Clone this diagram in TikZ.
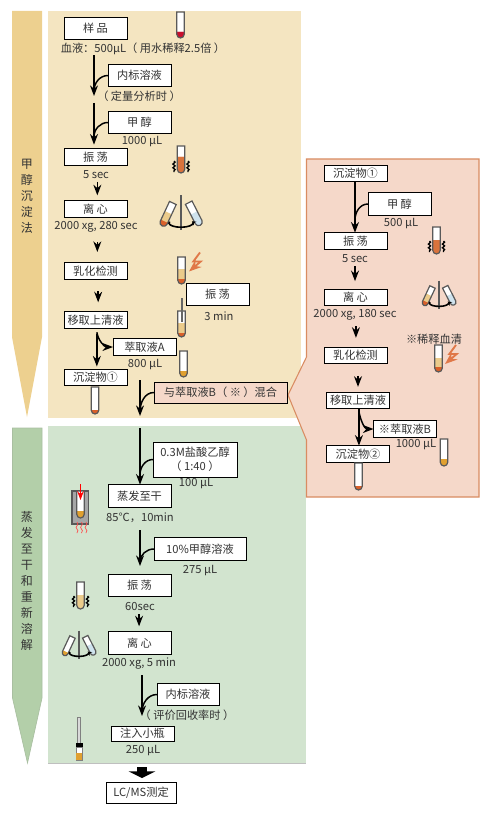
\documentclass[tikz,border=0pt]{standalone}
\usepackage{fontspec}
\setmainfont{Noto Sans CJK SC}
\usetikzlibrary{arrows.meta, positioning, decorations.pathmorphing}

\definecolor{panelyellow}{HTML}{F4E5C1}
\definecolor{bandyellow}{HTML}{EDD08F}
\definecolor{panelgreen}{HTML}{D2E4CF}
\definecolor{bandgreen}{HTML}{B3CFA9}
\definecolor{panelpink}{HTML}{F5D8C9}
\definecolor{edgepink}{HTML}{D98C62}
\definecolor{sparkorange}{HTML}{E07848}
\definecolor{pelletorange}{HTML}{D9602A}
\definecolor{mixorange}{HTML}{D9733C}
\definecolor{layertan}{HTML}{EBCB8B}
\definecolor{amber}{HTML}{E0A030}
\definecolor{paleblue}{HTML}{CFE3EE}
\definecolor{bloodred}{HTML}{C8102E}
\definecolor{inkgray}{HTML}{333333}

\newcommand{\tubepath}[3]{({#1-3.7},#2) -- ({#1-3.7},{#3-3.7}) arc[start angle=180,end angle=0,radius=3.7] -- ({#1+3.7},#2) -- cycle}
\newcommand{\testtube}[7]{%
  \fill[white] \tubepath{#1}{#2}{#3};
  \fill[#5] \tubepath{#1}{#4}{#3};
  \fill[#7] \tubepath{#1}{#6}{#3};
  \draw[tubeline] \tubepath{#1}{#2}{#3};
}
\newcommand{\shakemarks}[2]{%
  \draw[shakeline] ({#1-7},#2) -- ++(0,11);
  \draw[shakeline] ({#1+7},#2) -- ++(0,11);
}
\newcommand{\spinner}[6]{%
  \begin{scope}[shift={(#1,#2)},scale=#3]
    \draw[axisline] (0,-28) -- (0,7);
    \begin{scope}[shift={(-13.5,-8.5)},rotate=-25]
      \testtube{0}{-12.7}{12.7}{-2}{#4}{7.5}{#5}
    \end{scope}
    \begin{scope}[shift={(13.5,-9)},rotate=27]
      \testtube{0}{-12.7}{12.7}{-1}{#6}{-1}{#6}
    \end{scope}
    \draw[spinline] (-11.3,-1.4) arc[start angle=200,end angle=-25,x radius=12,y radius=4.2];
  \end{scope}
}
\newcommand{\sparkmark}[2]{%
  \draw[sparkline] (#1,#2) -- ++(-6.7,9) -- ++(7.4,0) -- ++(-11.7,10);
}

\begin{document}
\begin{tikzpicture}[
    x=0.75pt, y=-0.75pt,
    >=Stealth,
    lab/.style={inner sep=0pt, text=inkgray, font=\fontsize{8.4}{10}\selectfont},
    bandlab/.style={inner sep=0pt, text=inkgray, align=center, font=\fontsize{9}{12}\selectfont},
    proc/.style={draw=black, fill=white, line width=0.7pt, inner sep=0pt, outer sep=0pt,
                 minimum width=47.25pt, minimum height=12.5pt, align=center,
                 text=inkgray, font=\fontsize{8.4}{10.5}\selectfont},
    tall/.style={proc, minimum height=17pt},
    flow/.style={->, line width=1.1pt},
    branch/.style={line width=1.1pt},
    tubeline/.style={draw=black!65, line width=0.9pt},
    shakeline/.style={black, line width=1pt, decorate,
                      decoration={snake, amplitude=0.8pt, segment length=2.8pt}},
    axisline/.style={black!65, line width=0.8pt},
    spinline/.style={-{Stealth[length=3pt,width=3.5pt]}, black, line width=1.2pt},
    sparkline/.style={->, sparkorange, line width=1.4pt},
]
  \useasboundingbox (0,0) rectangle (486,813);

  % panels and side bands
  \fill[panelyellow] (48,11) rectangle (301,418);
  \fill[panelgreen] (48,426) rectangle (305.5,763);
  \draw[black!25, line width=0.5pt] (48,763) -- (305.5,763);
  \draw[edgepink, fill=panelpink, line width=0.8pt] (306.5,159) -- (479,159) -- (479,497) -- (306.5,497)
    -- (306.5,440) -- (288,395) -- (306.5,357) -- cycle;
  \fill[bandyellow] (12,11) -- (42,11) -- (42,337) -- (27,417) -- (12,337) -- cycle;
  \draw[bandgreen!80!gray, fill=bandgreen, line width=0.5pt] (12.5,428) -- (42,428) -- (42,698) -- (27.5,763) -- (12.5,698) -- cycle;
  \node[bandlab] (bandmeoh) at (27,196) {甲\\醇\\沉\\淀\\法};
  \node[bandlab] (bandredis) at (27,580.5) {蒸\\发\\至\\干\\和\\重\\新\\溶\\解};

  % methanol precipitation
  \node[tall] (sample) at (95.5,28.5) {样 品};
  \node[lab] (bloodnote) at (143,49) {血液：500μL（ 用水稀释2.5倍 ）};
  \node[tall] (istda) at (139.5,75.5) {内标溶液};
  \node[lab] (quantnote) at (139,96) {（ 定量分析时 ）};
  \node[tall] (meoha) at (139.5,122.5) {甲 醇};
  \node[lab] (meohavol) at (142,142) {1000 μL};
  \node[proc] (vortexa) at (95.5,157) {振 荡};
  \node[lab] (vortexatime) at (96,175) {5 sec};
  \node[proc] (spina) at (95.5,209) {离 心};
  \node[lab] (spinanote) at (96,227) {2000 xg, 280 sec};
  \node[proc] (emula) at (95.5,271) {乳化检测};
  \node[proc] (supa) at (95.5,320) {移取上清液};
  \node[proc] (extra) at (144.5,347) {萃取液A};
  \node[lab] (extravol) at (145,365) {800 μL};
  \node[proc] (pelleta) at (95.5,377.5) {沉淀物①};
  \node[tall] (shakelong) at (217.5,294.5) {振 荡};
  \node[lab] (shaketime) at (219,316) {3 min};
  \node[proc, fill=panelpink, minimum width=99.75pt, minimum height=15.75pt] (mixb) at (220.5,392.5) {与萃取液B（ ※ ）混合};

  \coordinate (joina) at (94,96);
  \coordinate (startb) at (94,103);
  \coordinate (startmix) at (140,380);
  \coordinate (joinmix) at (140,416);
  \draw[flow] (bloodnote.south -| joina) -- (joina);
  \draw[branch] (istda.west) to[out=180,in=90] (94,91);
  \draw[flow] (startb) -- ([yshift=3pt]startb |- vortexa.north);
  \draw[branch] (meoha.west) to[out=180,in=90] (94,137);
  \draw[flow, shorten <=2pt, shorten >=4pt] ([xshift=1pt]vortexatime.south) -- ([xshift=1pt]vortexatime.south |- spina.north);
  \draw[flow, shorten <=7pt, shorten >=8pt] ([xshift=1pt]spinanote.south) -- ([xshift=1pt]spinanote.south |- emula.north);
  \draw[flow, shorten <=9pt, shorten >=7pt] ([xshift=2pt]emula.south) -- ([xshift=2pt]emula.south |- supa.north);
  \draw[flow, shorten <=4pt, shorten >=2pt] ([xshift=1pt]supa.south) -- ([xshift=1pt]supa.south |- pelleta.north);
  \draw[branch, ->] ([xshift=1pt,yshift=-3pt]supa.south) to[out=-80,in=180] (extra.west);
  \draw[flow] (startmix) -- (joinmix);
  \draw[branch] (mixb.west) to[out=180,in=90] (140,412);

  \testtube{180.5}{12}{38}{32}{bloodred}{32}{bloodred}
  \testtube{181}{146}{173}{157}{mixorange}{157}{mixorange}
  \shakemarks{181}{161}
  \spinner{181}{223}{1}{layertan}{pelletorange}{paleblue}
  \testtube{181.5}{257}{284}{269}{layertan}{279}{pelletorange}
  \sparkmark{200}{252.5}
  \testtube{181.5}{311}{337}{323}{layertan}{333}{pelletorange}
  \draw[black!60, line width=1.8pt] (182,298) -- (182,322);
  \testtube{183.5}{351}{377}{371}{amber}{371}{amber}
  \testtube{95}{387}{414}{410}{pelletorange}{410}{pelletorange}

  % second extraction of the pellet
  \node[proc] (pelletb) at (355.5,173.5) {沉淀物①};
  \node[tall] (meohb) at (399.5,204) {甲 醇};
  \node[lab] (meohbvol) at (401,224) {500 μL};
  \node[proc] (vortexb) at (355.5,241) {振 荡};
  \node[lab] (vortexbtime) at (355,259) {5 sec};
  \node[proc] (spinb) at (355.5,297.5) {离 心};
  \node[lab] (spinbnote) at (355,315) {2000 xg, 180 sec};
  \node[proc] (emulb) at (355.5,355.5) {乳化检测};
  \node[lab] (serumnote) at (434,339) {※稀释血清};
  \node[proc] (supb) at (358,400.5) {移取上清液};
  \node[proc] (extrb) at (405,429) {※萃取液B};
  \node[lab] (extrbvol) at (416,444.5) {1000 μL};
  \node[proc] (pelletc) at (358,454) {沉淀物②};

  \draw[flow] ([xshift=-0.4pt]pelletb.south) -- ([xshift=-0.4pt]pelletb.south |- vortexb.north);
  \draw[branch] (meohb.west) to[out=180,in=90] (355,220);
  \draw[flow, shorten <=2pt, shorten >=6pt] (vortexbtime.south) -- (vortexbtime.south |- spinb.north);
  \draw[flow, shorten <=4pt, shorten >=7pt] ([xshift=0.7pt]spinbnote.south) -- ([xshift=0.7pt]spinbnote.south |- emulb.north);
  \draw[flow, shorten <=9pt, shorten >=4pt] (emulb.south -| supb) -- (supb.north);
  \draw[flow] ([xshift=0.7pt]supb.south) -- ([xshift=0.7pt]supb.south |- pelletc.north);
  \draw[branch, ->] ([xshift=0.7pt,yshift=-2pt]supb.south) to[out=-80,in=180] (extrb.west);

  \testtube{436.5}{227}{254}{240}{mixorange}{240}{mixorange}
  \shakemarks{436.5}{241}
  \spinner{439}{303}{0.8}{layertan}{pelletorange}{paleblue}
  \testtube{438.5}{345}{372}{358}{layertan}{367}{pelletorange}
  \sparkmark{456}{345}
  \testtube{444}{439}{466}{459}{amber}{459}{amber}
  \testtube{358.5}{463}{490}{486}{pelletorange}{486}{pelletorange}

  % evaporation and redissolution
  \node[tall, minimum width=63pt, minimum height=26.25pt] (hcl) at (195,459.5) {0.3M盐酸乙醇\\（ 1:40 ）};
  \node[lab] (hclvol) at (196,484) {100 μL};
  \node[tall] (evap) at (139.5,496) {蒸发至干};
  \node[lab] (evapnote) at (140,518) {85℃，10min};
  \node[tall, minimum width=69pt] (redis) at (200,549) {10\%甲醇溶液};
  \node[lab] (redisvol) at (200,571) {275 μL};
  \node[tall] (vortexc) at (139.5,585.5) {振 荡};
  \node[lab] (vortexctime) at (140,607) {60sec};
  \node[tall] (spinc) at (139.5,643) {离 心};
  \node[lab] (spincnote) at (139,664) {2000 xg, 5 min};
  \node[tall, minimum width=46.5pt] (istdb) at (188,694.5) {内标溶液};
  \node[lab] (recnote) at (187,715) {（ 评价回收率时 ）};
  \node[proc, minimum height=11.25pt] (vial) at (142.5,733.5) {注入小瓶};
  \node[lab] (vialvol) at (143,751) {250 μL};
  \node[tall, minimum width=52.5pt, minimum height=15.75pt] (lcms) at (141,792.5) {LC/MS测定};

  \coordinate (starthcl) at (140,428);
  \coordinate (startredis) at (140,530);
  \coordinate (joinredis) at (140,566);
  \coordinate (startistd) at (142,675);
  \coordinate (joinistd) at (142,716);
  \coordinate (startlcms) at (142,767);
  \draw[flow] (starthcl) -- (starthcl |- evap.north);
  \draw[branch] (hcl.west) to[out=180,in=90] (140,475);
  \draw[flow] (startredis) -- (joinredis);
  \draw[branch] (redis.west) to[out=180,in=90] (140,562);
  \draw[flow, shorten <=2pt, shorten >=4pt] ([xshift=-0.7pt]vortexctime.south) -- ([xshift=-0.7pt]vortexctime.south |- spinc.north);
  \draw[flow] (startistd) -- (joinistd);
  \draw[branch] (istdb.west) to[out=180,in=90] (142,712);
  \draw[line width=8pt, -{Triangle[width=20pt,length=5pt]}, shorten >=3pt] (startlcms) -- (startlcms |- lcms.north);

  \draw[draw=black!65, fill=black!35, line width=0.8pt] (72,491) rectangle (88.5,524);
  \testtube{80.5}{491}{518}{511}{amber}{511}{amber}
  \draw[->, red, line width=0.8pt] (80.5,484) -- (80.5,500);
  \foreach \hx in {77,81.5,86}
    \draw[red!70, line width=0.5pt, decorate, decoration={snake, amplitude=0.7pt, segment length=5pt}] (\hx,522) -- (\hx,533);
  \testtube{80.5}{582}{609}{595}{layertan}{595}{layertan}
  \shakemarks{80.5}{596}
  \spinner{79}{653}{0.8}{white}{amber}{paleblue}
  \draw[black!50, fill=black!15, line width=0.6pt] (77,717) rectangle (80,743);
  \draw[black!50, fill=white, line width=0.6pt] (76,747) rectangle (82,760);
  \fill[amber] (76.4,753) rectangle (81.6,759.6);
  \fill[black] (75.5,743) rectangle (82.5,747);
\end{tikzpicture}
\end{document}
